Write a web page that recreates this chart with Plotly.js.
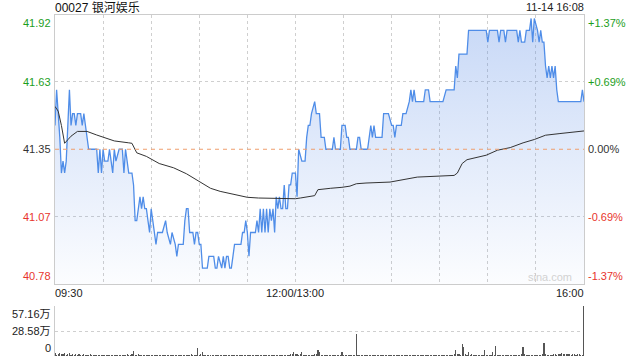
<!DOCTYPE html>
<html><head><meta charset="utf-8">
<script src="https://cdn.plot.ly/plotly-3.0.1.min.js"></script>
<style>html,body{margin:0;padding:0;background:#fff}#chart{width:640px;height:360px}</style>
</head><body><div id="chart"></div>
<script>
const stockTitle = '00027 银河娱乐';
const stampText = '11-14 16:08';
const prevClose = 41.35;
const rangePct = 1.37;

const priceTimes = [
'09:30','09:31','09:33','09:34','09:35','09:36','09:37','09:39','09:40','09:41',
'09:42','09:43','09:44','09:46','09:47','09:48','09:49','09:50','09:51','09:56',
'09:57','09:58','09:59','10:00','10:01','10:03','10:04','10:05','10:06','10:07',
'10:08','10:10','10:12','10:13','10:14','10:16','10:18','10:19','10:20','10:21',
'10:23','10:24','10:25','10:26','10:27','10:28','10:29','10:30','10:32','10:33',
'10:34','10:37','10:39','10:40','10:42','10:43','10:45','10:46','10:47','10:50',
'10:51','10:52','10:53','10:54','10:56','10:57','10:58','10:59','11:00','11:01',
'11:02','11:05','11:06','11:09','11:10','11:11','11:12','11:14','11:15','11:16',
'11:17','11:18','11:19','11:20','11:21','11:22','11:26','11:27','11:28','11:29',
'11:30','11:31','11:32','11:35','11:36','11:37','11:38','11:39','11:40','11:41',
'11:42','11:43','11:44','11:45','11:46','11:47','11:48','11:49','11:50','11:51',
'11:52','11:53','11:54','11:55','11:56','11:57','11:58','12:00',
'13:01','13:02','13:04','13:06','13:07','13:08','13:09','13:10','13:12','13:13',
'13:15','13:16','13:18','13:19','13:23','13:24','13:25','13:28','13:29','13:31',
'13:32','13:33','13:34','13:38','13:39','13:40','13:41','13:45','13:47','13:48',
'13:49','13:50','13:54','13:55','13:58','14:00','14:01','14:02','14:03','14:06',
'14:07','14:09','14:11','14:12','14:13','14:14','14:15','14:20','14:21','14:23',
'14:24','14:32','14:34','14:39','14:40','14:41','14:42','14:47','14:48','14:59',
'15:00','15:01','15:06','15:07','15:08','15:10','15:11','15:12','15:18','15:19',
'15:20','15:21','15:23','15:24','15:26','15:27','15:28','15:29','15:31','15:32',
'15:33','15:34','15:35','15:36','15:37','15:38','15:39','15:40','15:41','15:42',
'15:43','15:44','15:58','15:59','16:00'];

const prices = [
41.45,41.60,41.40,41.25,41.30,41.25,41.30,41.60,41.45,41.50,
41.50,41.45,41.50,41.50,41.45,41.50,41.45,41.40,41.35,41.35,
41.25,41.35,41.25,41.35,41.30,41.30,41.35,41.30,41.25,41.35,
41.30,41.35,41.35,41.25,41.35,41.25,41.25,41.20,41.05,41.05,
41.15,41.10,41.15,41.10,41.10,41.05,41.00,41.10,41.00,40.95,
41.00,41.00,41.05,41.00,40.95,41.00,40.95,40.90,40.95,40.95,
41.05,41.10,41.10,41.00,41.00,40.95,41.00,41.00,40.95,40.95,
40.85,40.85,40.90,40.90,40.85,40.85,40.90,40.85,40.90,40.85,
40.90,40.90,40.85,40.85,40.90,40.95,40.95,41.00,41.00,41.05,
41.00,40.90,41.00,41.00,41.05,41.00,41.10,41.00,41.10,41.00,
41.10,41.00,41.10,41.05,41.10,41.00,41.15,41.10,41.15,41.10,
41.10,41.20,41.10,41.10,41.20,41.20,41.25,41.25,
41.15,41.35,41.30,41.30,41.40,41.45,41.45,41.50,41.55,41.50,
41.50,41.40,41.40,41.35,41.35,41.40,41.35,41.35,41.45,41.45,
41.40,41.40,41.35,41.35,41.40,41.40,41.35,41.35,41.45,41.40,
41.45,41.40,41.40,41.50,41.50,41.45,41.45,41.40,41.45,41.45,
41.50,41.50,41.55,41.60,41.55,41.60,41.55,41.55,41.60,41.60,
41.55,41.55,41.60,41.60,41.70,41.65,41.75,41.75,41.85,41.85,
41.80,41.85,41.85,41.80,41.85,41.85,41.80,41.85,41.85,41.80,
41.85,41.80,41.80,41.85,41.85,41.90,41.80,41.90,41.85,41.80,
41.85,41.80,41.80,41.70,41.65,41.70,41.65,41.70,41.65,41.70,
41.60,41.55,41.55,41.60,41.55];

const avgTimes = ['09:30','09:32','09:34','09:35','09:36','09:38','09:40','09:44','09:50','09:56',
'10:04','10:07','10:16','10:18','10:21','10:27','10:35','10:44','10:52','10:59',
'11:01','11:07','11:13','11:22','11:30','11:37','11:47','12:00','13:03','13:07',
'13:12','13:14','13:18','13:22','13:29','13:34','13:38','13:44','13:59','14:05',
'14:16','14:39','14:41','14:44','14:47','14:59','15:06','15:14','15:22','15:29',
'15:36','15:45','16:00'];
const avgPrices = [41.53,41.51,41.45,41.41,41.375,41.39,41.405,41.425,41.425,41.41,
41.39,41.385,41.377,41.375,41.335,41.32,41.29,41.272,41.247,41.22,
41.212,41.186,41.173,41.16,41.148,41.145,41.143,41.142,41.145,41.15,
41.155,41.18,41.184,41.186,41.19,41.195,41.205,41.208,41.212,41.219,
41.233,41.24,41.25,41.29,41.306,41.325,41.346,41.357,41.377,41.391,
41.409,41.416,41.427];

// volume per minute from 09:30 (units: 万)
const volumes = [
3.2,1.5,2.8,3.6,1.9,2.4,3.1,1.6,2.2,2.9,1.4,2.0,1.7,2.5,1.3,1.8,1.2,1.6,2.1,1.1,1.5,1.3,1.9,1.0,1.4,1.2,1.7,0.9,1.3,1.1,
1.5,1.0,1.2,1.6,0.9,1.3,1.1,1.4,0.8,1.2,1.0,1.5,0.9,1.1,1.3,1.8,1.0,1.2,2.2,5.9,1.6,1.4,2.0,1.1,1.3,1.0,1.5,0.9,1.2,1.1,
1.3,0.8,1.0,1.4,0.9,1.1,1.2,0.8,1.0,1.3,0.9,1.1,1.5,0.8,1.0,1.2,1.6,0.9,1.1,1.3,1.0,1.2,1.4,0.9,1.1,1.8,1.0,1.3,1.5,8.6,
1.6,2.0,4.3,1.2,1.0,1.4,0.9,1.1,1.3,0.8,1.0,1.2,0.9,1.1,0.8,1.0,1.3,0.9,1.1,0.8,1.2,1.0,0.9,1.1,1.4,0.8,1.0,1.2,0.9,1.1,
1.3,0.8,1.0,1.2,0.9,1.1,0.8,1.0,1.4,0.9,1.1,1.2,0.8,1.0,1.3,0.9,1.1,1.0,1.2,0.9,1.1,1.5,1.0,1.2,1.6,1.1,1.3,1.8,2.4,5.0,
1.8,2.2,1.5,1.9,4.3,1.4,1.6,1.2,1.5,1.1,1.4,1.0,1.9,2.4,7.0,5.0,1.6,1.3,1.5,1.1,1.4,1.0,1.3,1.2,0.9,1.1,1.4,1.0,1.2,4.7,
1.3,1.0,1.2,0.9,1.1,1.4,1.0,1.2,25.0,1.5,1.2,1.0,1.3,0.9,1.1,1.0,1.4,0.9,1.2,1.0,1.3,0.8,1.1,1.0,1.2,0.9,1.1,1.3,1.0,0.9,
1.2,1.0,1.3,0.9,1.1,1.0,1.4,0.9,1.2,1.0,1.1,0.8,1.3,1.0,1.2,0.9,1.1,1.0,1.3,0.9,1.2,1.0,1.1,0.9,1.2,1.0,1.3,0.9,1.1,1.2,
1.0,1.3,0.9,1.2,1.1,1.4,1.0,1.3,1.6,2.0,7.0,1.8,2.3,1.5,13.3,10.0,2.0,1.6,5.0,1.4,1.8,1.2,1.5,1.1,1.3,1.6,1.0,1.4,7.0,1.2,
1.5,1.1,1.3,4.3,1.2,11.0,1.6,1.2,1.4,1.0,1.3,1.5,1.1,1.2,1.0,1.4,1.1,1.3,1.0,1.2,1.5,1.8,9.8,2.0,1.5,1.3,1.1,1.4,1.2,1.0,
1.3,1.6,1.2,1.5,1.9,14.5,2.2,1.6,1.3,1.5,1.2,1.8,2.1,1.6,2.3,1.9,3.0,2.5,2.2,1.8,2.4,2.0,1.7,2.1,1.9,1.6,2.0,1.8,1.5,1.7,57.16];

const priceLabels = ['41.92','41.63','41.35','41.07','40.78'];
const pctLabels = ['+1.37%','+0.69%','0.00%','-0.69%','-1.37%'];
const pctLevels = [1.37, 0.685, 0, -0.685, -1.37];
const xTickLabels = ['09:30','12:00/13:00','16:00'];
const volTickLabels = ['57.16万','28.58万','0'];
const volTickValues = [57.16, 28.58, 0];
const volMax = 57.16;

function toIdx(t){
  const p = t.split(':').map(Number);
  const mins = p[0]*60 + p[1];
  return mins <= 720 ? mins - 570 : mins - 780 + 150;
}

const lo = prevClose*(1 - rangePct/100);
const hi = prevClose*(1 + rangePct/100);
const UP = '#1c9e1c', DOWN = '#e8352c', FLAT = '#333';
const FONT = 'Liberation Sans, Arial, Noto Sans CJK SC, sans-serif';

const traces = [
  {x: priceTimes.map(toIdx), y: prices, type:'scatter', mode:'lines',
   line:{color:'#4f8de8', width:1.3}, fill:'tozeroy',
   fillgradient:{type:'vertical', start: lo, stop: hi,
     colorscale:[[0,'rgba(90,140,230,0.02)'],[1,'rgba(90,140,230,0.34)']]},
   hoverinfo:'skip', xaxis:'x', yaxis:'y'},
  {x: avgTimes.map(toIdx), y: avgPrices, type:'scatter', mode:'lines',
   line:{color:'#333', width:1}, hoverinfo:'skip', xaxis:'x', yaxis:'y'},
  {x: volumes.map((v,i)=>i), y: volumes, type:'bar', width:0.75,
   marker:{color:'#555', line:{width:0}}, hoverinfo:'skip', xaxis:'x2', yaxis:'y2'}
];

const annotations = [];
const ann = (o) => annotations.push(Object.assign({showarrow:false, font:{family:FONT, size:11, color:'#222'}}, o));

ann({text: stockTitle, xref:'paper', x:0, xanchor:'left', xshift:-2, yref:'paper', y:1, yanchor:'top', yshift:1, font:{family:FONT, size:12, color:'#111'}});
ann({text: stampText, xref:'paper', x:1, xanchor:'right', xshift:2, yref:'paper', y:1, yanchor:'top', yshift:1, font:{family:FONT, size:11, color:'#222'}});

pctLevels.forEach((p,i)=>{
  const yv = prevClose*(1+p/100);
  const col = p>0 ? UP : (p<0 ? DOWN : FLAT);
  const ya = i===0 ? 'top' : (i===pctLevels.length-1 ? 'bottom' : 'middle');
  ann({text: priceLabels[i], xref:'paper', x:0, xanchor:'right', xshift:-2, yref:'y', y:yv, yanchor:ya, font:{family:FONT, size:11, color:col}});
  ann({text: pctLabels[i], xref:'paper', x:1, xanchor:'left', xshift:2, yref:'y', y:yv, yanchor:ya, font:{family:FONT, size:11, color:col}});
});

xTickLabels.forEach((t,i)=>{
  const xv = toIdx(t.split('/')[0]);
  const xa = i===0 ? 'left' : (i===xTickLabels.length-1 ? 'right' : 'center');
  ann({text:t, xref:'x', x:xv, xanchor:xa, xshift: i===0?-2:(i===xTickLabels.length-1?2:0), yref:'y', y:lo, yanchor:'top', yshift:-1, font:{family:FONT, size:11, color:'#222'}});
});

volTickLabels.forEach((t,i)=>{
  const ya = i===0 ? 'top' : (i===volTickLabels.length-1 ? 'bottom' : 'middle');
  ann({text:t, xref:'paper', x:0, xanchor:'right', xshift:-2, yref:'y2', y:volTickValues[i], yanchor:ya, font:{family:FONT, size:11, color:'#222'}});
});

ann({text:'sina.com', xref:'paper', x:1, xanchor:'right', xshift:-10, yref:'y', y:lo, yanchor:'bottom', yshift:-1, font:{family:FONT, size:11, color:'#d2d2d2'}});

const gridTicks = [30,60,90,120,150,180,210,240,270,300];

const layout = {
  width:640, height:360,
  margin:{l:55, r:56, t:0, b:0, pad:0},
  paper_bgcolor:'#fff', plot_bgcolor:'rgba(0,0,0,0)',
  showlegend:false, bargap:0,
  xaxis:{range:[0,330], anchor:'y', tickvals:gridTicks, showticklabels:false, ticks:'',
    showgrid:true, gridcolor:'#cfcfcf', griddash:'dot', gridwidth:1,
    showline:true, mirror:true, linecolor:'#cccccc', linewidth:1, zeroline:false, fixedrange:true},
  yaxis:{range:[lo,hi], domain:[0.2111,0.9597], anchor:'x',
    tickvals:[prevClose*(1+pctLevels[1]/100), prevClose*(1+pctLevels[3]/100)],
    showticklabels:false, ticks:'', showgrid:true, gridcolor:'#cfcfcf', griddash:'dot', gridwidth:1,
    showline:true, mirror:true, linecolor:'#cccccc', linewidth:1, zeroline:false, fixedrange:true},
  xaxis2:{range:[0,330], anchor:'y2', showticklabels:false, ticks:'', showgrid:false, zeroline:false, showline:false, fixedrange:true},
  yaxis2:{range:[0,volMax], domain:[0.0111,0.15], anchor:'x2', tickvals:[volTickValues[1], volTickValues[0]],
    showticklabels:false, ticks:'', showgrid:true, gridcolor:'#cfcfcf', griddash:'dot', gridwidth:1,
    showline:true, linecolor:'#cccccc', linewidth:1, zeroline:false, fixedrange:true},
  shapes:[{type:'line', xref:'x', yref:'y', x0:0, x1:330, y0:prevClose, y1:prevClose,
    line:{color:'#ef9f6e', width:1, dash:'4px,4px'}}],
  annotations: annotations
};

Plotly.newPlot('chart', traces, layout, {staticPlot:true, displayModeBar:false});
</script>
</body></html>
